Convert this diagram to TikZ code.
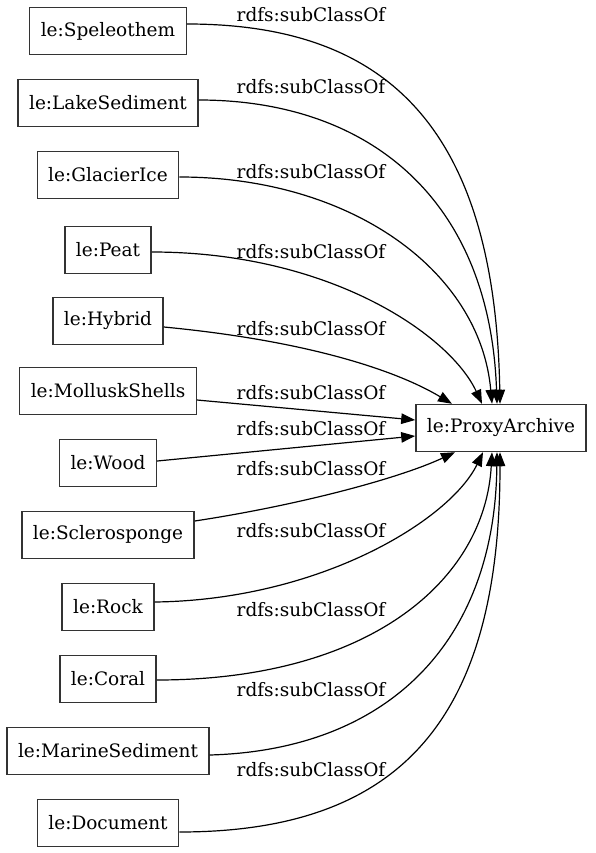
\documentclass[tikz,border=0pt]{standalone}
\usepackage{fontspec}
\setmainfont{DejaVu Serif}
\usetikzlibrary{arrows.meta,positioning}

\tikzset{
  cls/.style={draw=black!80,line width=1.4pt,fill=white,minimum height=47pt,inner xsep=11pt,font=\fontsize{18.5}{22}\selectfont},
  rel/.style={font=\fontsize{18.5}{22}\selectfont,inner sep=0pt},
  sub/.style={-{Triangle[length=14pt,width=10.5pt]},line width=1.2pt}
}

\begin{document}
\begin{tikzpicture}[x=1pt,y=-1pt]
  \useasboundingbox (0,0) rectangle (595,853);
  % classes
  \node[cls] (spe)   at (108,31)  {le:Speleothem};
  \node[cls] (lake)  at (108,103) {le:LakeSediment};
  \node[cls] (glac)  at (108,175) {le:GlacierIce};
  \node[cls] (peat)  at (108,250) {le:Peat};
  \node[cls] (hyb)   at (108,321) {le:Hybrid};
  \node[cls] (moll)  at (108,391) {le:MolluskShells};
  \node[cls] (wood)  at (108,463) {le:Wood};
  \node[cls] (scl)   at (108,535) {le:Sclerosponge};
  \node[cls] (rock)  at (108,607) {le:Rock};
  \node[cls] (coral) at (108,679) {le:Coral};
  \node[cls] (mar)   at (108,751) {le:MarineSediment};
  \node[cls] (doc)   at (108,823) {le:Document};
  \node[cls] (pa)    at (501,428) {le:ProxyArchive};
  % subclass edges, top
  \draw[sub] ([yshift=7pt]spe.east)   .. controls (380,24) and (495,120) .. ([xshift=-1pt]pa.north);
  \draw[sub] ([yshift=3pt]lake.east)  .. controls (370,100) and (490,200) .. ([xshift=-4pt]pa.north);
  \draw[sub] ([yshift=-2pt]glac.east) .. controls (350,177) and (480,270) .. ([xshift=-9pt]pa.north);
  \draw[sub] ([yshift=-2pt]peat.east) .. controls (330,252) and (450,335) .. ([xshift=-19pt]pa.north);
  \draw[sub] ([yshift=-6pt]hyb.east)  .. controls (300,340) and (392,368) .. ([xshift=-49pt]pa.north);
  % straight ones
  \draw[sub] ([yshift=-9pt]moll.east) -- ([yshift=8pt]pa.west);
  \draw[sub] ([yshift=2pt]wood.east)  -- ([yshift=-8pt]pa.west);
  % bottom
  \draw[sub] ([yshift=14pt]scl.east)  .. controls (300,505) and (400,478) .. ([xshift=-46pt]pa.south);
  \draw[sub] ([yshift=5pt]rock.east)  .. controls (320,600) and (450,520) .. ([xshift=-18pt]pa.south);
  \draw[sub] ([yshift=-1pt]coral.east) .. controls (370,680) and (485,580) .. ([xshift=-9pt]pa.south);
  \draw[sub] ([yshift=-4pt]mar.east)  .. controls (390,750) and (495,640) .. ([xshift=-4pt]pa.south);
  \draw[sub] ([yshift=-9pt]doc.east)  .. controls (400,832) and (500,720) .. ([xshift=-1pt]pa.south);
  % labels
  \node[rel] (r1)  at (311,15)  {rdfs:subClassOf};
  \node[rel] (r2)  at (311,87)  {rdfs:subClassOf};
  \node[rel] (r3)  at (311,172) {rdfs:subClassOf};
  \node[rel] (r4)  at (311,252) {rdfs:subClassOf};
  \node[rel] (r5)  at (311,329) {rdfs:subClassOf};
  \node[rel] (r6)  at (311,393) {rdfs:subClassOf};
  \node[rel] (r7)  at (311,429) {rdfs:subClassOf};
  \node[rel] (r8)  at (311,469) {rdfs:subClassOf};
  \node[rel] (r9)  at (311,531) {rdfs:subClassOf};
  \node[rel] (r10) at (311,610) {rdfs:subClassOf};
  \node[rel] (r11) at (311,690) {rdfs:subClassOf};
  \node[rel] (r12) at (311,770) {rdfs:subClassOf};
\end{tikzpicture}
\end{document}
